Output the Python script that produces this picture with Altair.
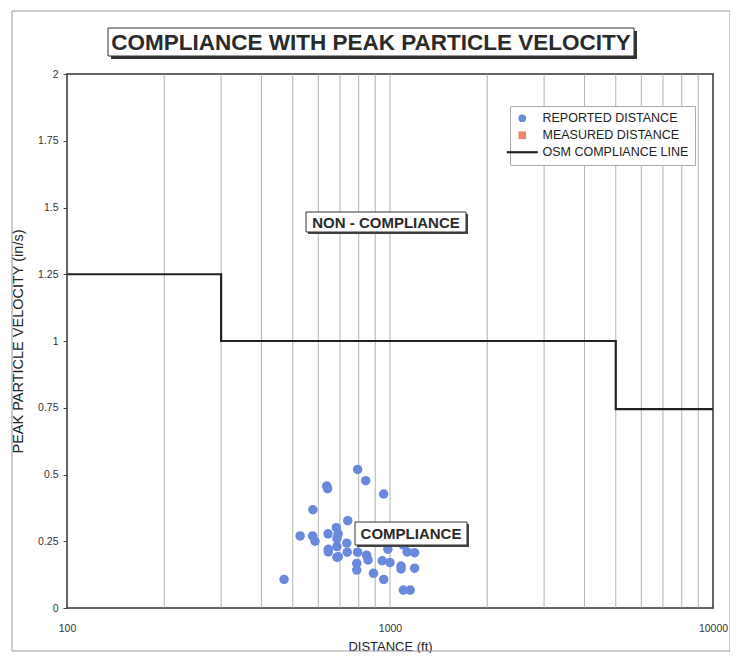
import altair as alt
import pandas as pd

# ---- data ----
reported_x = [794, 841, 637, 641, 956, 577, 740, 682, 527, 576, 586, 643, 691, 685, 685,
              685, 644, 644, 737, 692, 794, 846, 855, 789, 789, 889, 946, 1000, 956, 1082,
              1082, 1192, 1192, 1100, 1155, 470, 985, 1098, 735, 1110, 1130]
reported_y = [0.519, 0.477, 0.457, 0.447, 0.427, 0.368, 0.327, 0.301, 0.270, 0.270, 0.25,
              0.278, 0.278, 0.26, 0.23, 0.19, 0.22, 0.21, 0.209, 0.192, 0.209, 0.198, 0.18,
              0.167, 0.142, 0.13, 0.177, 0.17, 0.107, 0.157, 0.146, 0.207, 0.149, 0.067,
              0.067, 0.107, 0.22, 0.236, 0.243, 0.24, 0.21]

line_x = [100, 300, 5000, 10000]
line_y = [1.25, 1.0, 0.745, 0.745]

grid_x = [200, 300, 400, 500, 600, 700, 800, 900, 1000,
          2000, 3000, 4000, 5000, 6000, 7000, 8000, 9000]

series = ["REPORTED DISTANCE", "MEASURED DISTANCE", "OSM COMPLIANCE LINE"]
series_colors = ["#6a89dc", "#e8876c", "#222222"]
series_shapes = ["circle", "square", "M-4,-0.28H4V0.28H-4Z"]

title_text = "COMPLIANCE WITH PEAK PARTICLE VELOCITY"
ann_labels = ["NON - COMPLIANCE", "COMPLIANCE"]

FONT = "Liberation Sans"
W, H = 646, 534

pts = pd.DataFrame({"x": reported_x, "y": reported_y, "series": series[0]})
line_df = pd.DataFrame({"x": line_x, "y": line_y})
grid_df = pd.DataFrame({"x": grid_x})
one = pd.DataFrame({"k": [0]})

xscale = alt.Scale(type="log", domain=[100, 10000], nice=False)
yscale = alt.Scale(domain=[0, 2], nice=False)

xaxis = alt.Axis(values=[100, 1000, 10000], format="d", title="DISTANCE  (ft)",
                 tickSize=0, labelPadding=15, titlePadding=7, grid=False,
                 domain=False, labelFontSize=10.5, titleFontSize=13,
                 titleFontWeight="normal", labelColor="#333", titleColor="#222",
                 labelFont=FONT, titleFont=FONT, labelFlush=False, labelBound=False)
yaxis = alt.Axis(values=[0, 0.25, 0.5, 0.75, 1, 1.25, 1.5, 1.75, 2], format=".2~f",
                 title="PEAK PARTICLE VELOCITY  (in/s)", tickSize=4, labelPadding=5,
                 titlePadding=12, grid=False, domain=False, labelFontSize=10.5,
                 titleFontSize=14.5, titleFontWeight="normal", labelColor="#333",
                 titleColor="#222", tickColor="#444", labelFont=FONT, titleFont=FONT)

X = alt.X("x:Q", scale=xscale, axis=xaxis)
Y = alt.Y("y:Q", scale=yscale, axis=yaxis)

# decorative frame around the page
frame = alt.Chart(one).mark_rect(fill=None, stroke="#999", strokeWidth=1).encode(
    x=alt.value(-55), x2=alt.value(W + 17), y=alt.value(-63), y2=alt.value(H + 43))

# title box
title_shadow = alt.Chart(one).mark_rect(fill="#333").encode(
    x=alt.value(44), x2=alt.value(570), y=alt.value(-43), y2=alt.value(-15))
title_box = alt.Chart(one).mark_rect(fill="white", stroke="#333", strokeWidth=1).encode(
    x=alt.value(41), x2=alt.value(567), y=alt.value(-46), y2=alt.value(-18))
title = alt.Chart(one).mark_text(font=FONT, fontSize=22.5, fontWeight="bold",
                                 color="#2a2a2a", baseline="middle").encode(
    x=alt.value(304), y=alt.value(-31), text=alt.value(title_text))

grid = alt.Chart(grid_df).mark_rule(color="#a0a0a0", strokeWidth=0.8).encode(x=X)

line = alt.Chart(line_df).mark_line(color="#222222", strokeWidth=2.2,
                                    interpolate="step-after").encode(x=X, y=Y)

points = alt.Chart(pts).mark_point(filled=True, size=90, opacity=1).encode(
    x=X, y=Y,
    color=alt.Color("series:N", scale=alt.Scale(domain=series, range=series_colors),
                    legend=alt.Legend(title=None, orient="none", legendX=443, legendY=32,
                                      fillColor="white", strokeColor="#aaa",
                                      padding=6, symbolSize=60, labelFontSize=12.5,
                                      labelFont=FONT, labelColor="#222",
                                      labelOffset=14, rowPadding=4,
                                      symbolStrokeWidth=0)),
    shape=alt.Shape("series:N", scale=alt.Scale(domain=series, range=series_shapes),
                    legend=None),
)

# annotation boxes
ann1_shadow = alt.Chart(one).mark_rect(fill="#444").encode(
    x=alt.value(241), x2=alt.value(401), y=alt.value(140), y2=alt.value(160))
ann1_box = alt.Chart(one).mark_rect(fill="white", stroke="#333", strokeWidth=1).encode(
    x=alt.value(239), x2=alt.value(399), y=alt.value(138), y2=alt.value(158))
ann1 = alt.Chart(one).mark_text(font=FONT, fontSize=15, fontWeight="bold",
                                color="#2a2a2a", baseline="middle").encode(
    x=alt.value(319), y=alt.value(148.5), text=alt.value(ann_labels[0]))

ann2_shadow = alt.Chart(one).mark_rect(fill="#444").encode(
    x=alt.value(290), x2=alt.value(402), y=alt.value(450), y2=alt.value(473))
ann2_box = alt.Chart(one).mark_rect(fill="white", stroke="#333", strokeWidth=1).encode(
    x=alt.value(288), x2=alt.value(400), y=alt.value(448), y2=alt.value(471))
ann2 = alt.Chart(one).mark_text(font=FONT, fontSize=15, fontWeight="bold",
                                color="#2a2a2a", baseline="middle").encode(
    x=alt.value(344), y=alt.value(460), text=alt.value(ann_labels[1]))

chart = alt.layer(
    frame, title_shadow, title_box, title, grid, line, points,
    ann1_shadow, ann1_box, ann1, ann2_shadow, ann2_box, ann2,
).properties(
    width=W, height=H,
    autosize=alt.AutoSizeParams(type="none"),
    padding={"left": 59, "top": 66, "right": 17, "bottom": 45},
    background="white",
).configure_view(stroke="#333", strokeWidth=1.5)

chart.save("out.html", embed_options={"renderer": "svg", "actions": False})
